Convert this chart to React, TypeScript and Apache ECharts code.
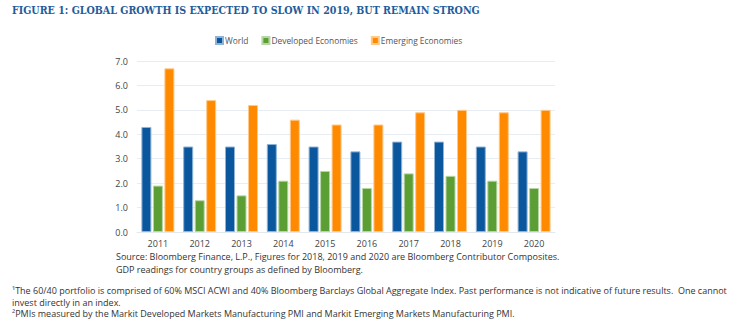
import React, { useEffect, useRef } from "react";
import * as echarts from "echarts";

const years = ["2011", "2012", "2013", "2014", "2015", "2016", "2017", "2018", "2019", "2020"];
const world = [4.3, 3.5, 3.5, 3.6, 3.5, 3.3, 3.7, 3.7, 3.5, 3.3];
const developed = [1.9, 1.3, 1.5, 2.1, 2.5, 1.8, 2.4, 2.3, 2.1, 1.8];
const emerging = [6.7, 5.4, 5.2, 4.6, 4.4, 4.4, 4.9, 5.0, 4.9, 5.0];
const seriesNames = ["World", "Developed Economies", "Emerging Economies"];

const titleText = "FIGURE 1: GLOBAL GROWTH IS EXPECTED TO SLOW IN 2019, BUT REMAIN STRONG";
const sourceLines = [
  "Source: Bloomberg Finance, L.P., Figures for 2018, 2019 and 2020 are Bloomberg Contributor Composites.",
  "GDP readings for country groups as defined by Bloomberg.",
];
const footLines = [
  "\u00B9The 60/40 portfolio is comprised of 60% MSCI ACWI and 40% Bloomberg Barclays Global Aggregate Index. Past performance is not indicative of future results.  One cannot",
  "invest directly in an index.",
  "\u00B2PMIs measured by the Markit Developed Markets Manufacturing PMI and Markit Emerging Markets Manufacturing PMI.",
];

const colors = ["#0A579E", "#5A9E34", "#FF8A00"];
const borders = ["#8FB3D6", "#B7D6A6", "#FFC98A"];

export default function App() {
  const ref = useRef<HTMLDivElement>(null);
  useEffect(() => {
    const chart = echarts.init(ref.current!, null, { renderer: "svg" });
    const font = "'Open Sans', sans-serif";
    const dataSets = [world, developed, emerging];
    chart.setOption({
      animation: false,
      backgroundColor: "#ffffff",
      legend: {
        data: seriesNames,
        left: 210,
        top: 31,
        itemWidth: 7,
        itemHeight: 7,
        itemGap: 13,
        icon: "rect",
        textStyle: { fontFamily: font, fontSize: 8.4, color: "#555", padding: [0, 0, 0, -3] },
      },
      grid: { left: 137, right: 195, top: 61, bottom: 98 },
      xAxis: {
        type: "category",
        data: years,
        axisTick: { show: false },
        axisLine: { lineStyle: { color: "#E3E8EF", width: 1 } },
        axisLabel: { fontFamily: font, fontSize: 9, color: "#444", margin: 6, lineHeight: 10 },
      },
      yAxis: {
        type: "value",
        min: 0,
        max: 7,
        interval: 1,
        axisLabel: {
          fontFamily: font,
          fontSize: 9,
          color: "#444",
          margin: 9,
          formatter: (v: number) => v.toFixed(1),
        },
        splitLine: { lineStyle: { color: "#E8EDF3", width: 1 } },
        axisLine: { show: false },
        axisTick: { show: false },
      },
      series: seriesNames.map((n, i) => ({
        name: n,
        type: "bar",
        data: dataSets[i],
        barWidth: 10,
        barGap: "15%",
        itemStyle: { color: colors[i], borderColor: borders[i], borderWidth: 1 },
      })),
      graphic: [
        {
          type: "text",
          left: 12,
          top: 4,
          style: {
            text: titleText,
            fontFamily: "'DejaVu Serif Condensed', 'DejaVu Serif', serif",
            fontWeight: "bold",
            fontSize: 10.6,
            fill: "#1F5C9C",
          },
        },
        ...sourceLines.map((t, i) => ({
          type: "text",
          left: 116,
          top: 251 + i * 12.5,
          style: { text: t, fontFamily: font, fontSize: 9, lineHeight: 11, fill: "#333" },
        })),
        ...footLines.map((t, i) => ({
          type: "text",
          left: 12,
          top: [285, 297, 308.5][i],
          style: { text: t, fontFamily: font, fontSize: 9, lineHeight: 10, fill: "#333" },
        })),
      ],
    });
    return () => chart.dispose();
  }, []);
  return (
    <div
      ref={ref}
      style={{ position: "fixed", left: 0, top: 0, width: 750, height: 330 }}
    />
  );
}
